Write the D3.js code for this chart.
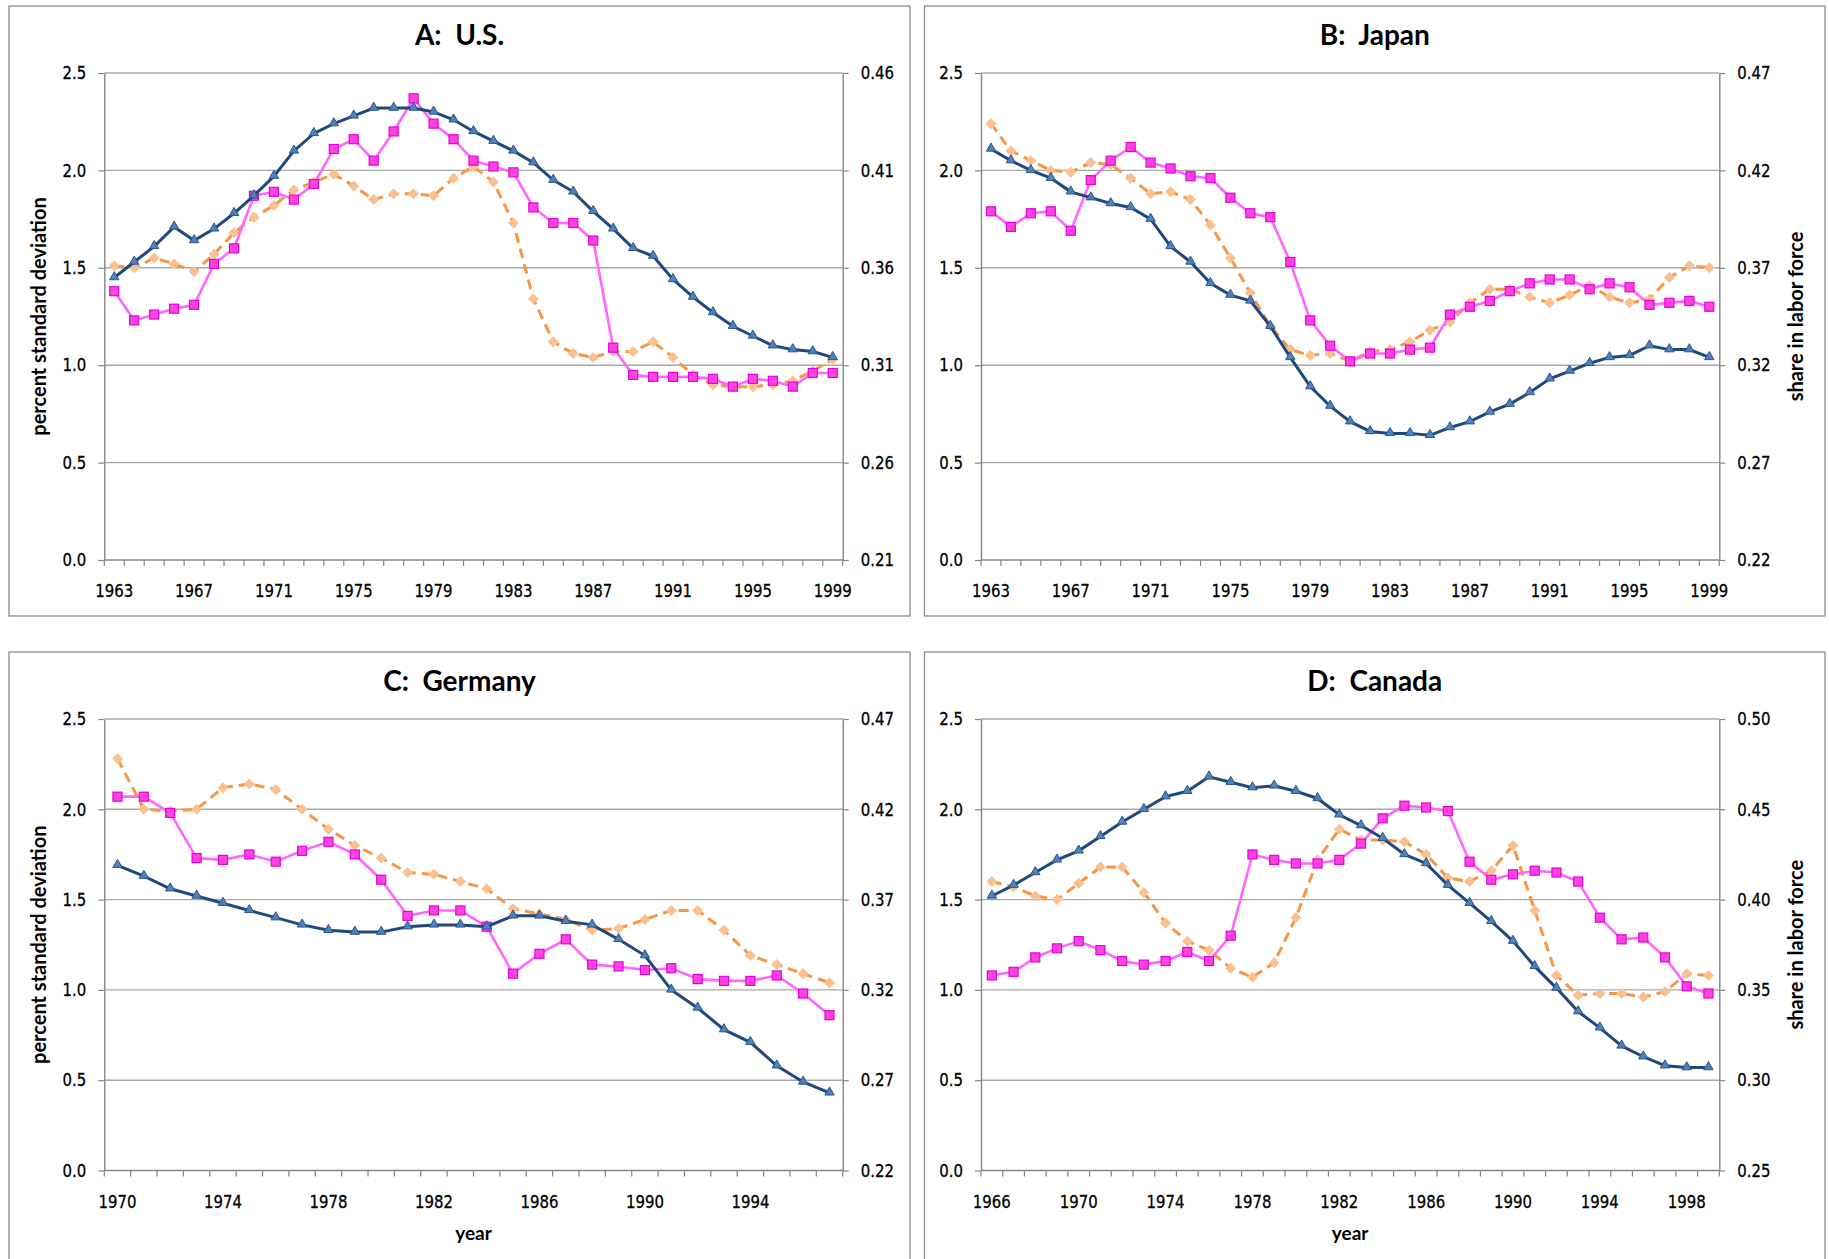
<!DOCTYPE html>
<html><head><meta charset="utf-8">
<script src="https://cdn.jsdelivr.net/npm/d3@7"></script>
<style>body{margin:0;background:#fff}svg{display:block}</style>
</head><body>
<svg id="c" width="1829" height="1259"></svg>
<script>
// ---------- data ----------
const yearsUS = [1963,1964,1965,1966,1967,1968,1969,1970,1971,1972,1973,1974,1975,1976,1977,1978,1979,1980,1981,1982,1983,1984,1985,1986,1987,1988,1989,1990,1991,1992,1993,1994,1995,1996,1997,1998,1999];
const usShare   = [0.355,0.363,0.371,0.381,0.374,0.380,0.388,0.397,0.407,0.420,0.429,0.434,0.438,0.442,0.442,0.442,0.440,0.436,0.430,0.425,0.420,0.414,0.405,0.399,0.389,0.380,0.370,0.366,0.354,0.345,0.337,0.330,0.325,0.320,0.318,0.317,0.314];
const usSquare  = [1.38,1.23,1.26,1.29,1.31,1.52,1.60,1.87,1.89,1.85,1.93,2.11,2.16,2.05,2.20,2.37,2.24,2.16,2.05,2.02,1.99,1.81,1.73,1.73,1.64,1.09,0.95,0.94,0.94,0.94,0.93,0.89,0.93,0.92,0.89,0.96,0.96];
const usDiamond = [1.51,1.50,1.55,1.52,1.48,1.57,1.68,1.76,1.82,1.90,1.94,1.98,1.92,1.85,1.88,1.88,1.87,1.96,2.02,1.94,1.73,1.34,1.12,1.06,1.04,1.07,1.07,1.12,1.04,0.95,0.90,0.89,0.89,0.90,0.92,0.97,1.03];

const yearsJP = [1963,1964,1965,1966,1967,1968,1969,1970,1971,1972,1973,1974,1975,1976,1977,1978,1979,1980,1981,1982,1983,1984,1985,1986,1987,1988,1989,1990,1991,1992,1993,1994,1995,1996,1997,1998,1999];
const jpShare   = [0.431,0.425,0.420,0.416,0.409,0.406,0.403,0.401,0.395,0.381,0.373,0.362,0.356,0.353,0.340,0.324,0.309,0.299,0.291,0.286,0.285,0.285,0.284,0.288,0.291,0.296,0.300,0.306,0.313,0.317,0.321,0.324,0.325,0.330,0.328,0.328,0.324];
const jpSquare  = [1.79,1.71,1.78,1.79,1.69,1.95,2.05,2.12,2.04,2.01,1.97,1.96,1.86,1.78,1.76,1.53,1.23,1.10,1.02,1.06,1.06,1.08,1.09,1.26,1.30,1.33,1.38,1.42,1.44,1.44,1.39,1.42,1.40,1.31,1.32,1.33,1.30];
const jpDiamond = [2.24,2.10,2.05,2.00,1.99,2.04,2.03,1.96,1.88,1.89,1.85,1.72,1.55,1.37,1.20,1.08,1.05,1.06,1.02,1.07,1.08,1.12,1.18,1.22,1.32,1.39,1.39,1.35,1.32,1.36,1.41,1.35,1.32,1.34,1.45,1.51,1.50];

const yearsDE = [1970,1971,1972,1973,1974,1975,1976,1977,1978,1979,1980,1981,1982,1983,1984,1985,1986,1987,1988,1989,1990,1991,1992,1993,1994,1995,1996,1997];
const deShare   = [0.389,0.383,0.376,0.372,0.368,0.364,0.360,0.356,0.353,0.352,0.352,0.355,0.356,0.356,0.355,0.361,0.361,0.358,0.356,0.348,0.339,0.320,0.310,0.298,0.291,0.278,0.269,0.263];
const deSquare  = [2.07,2.07,1.98,1.73,1.72,1.75,1.71,1.77,1.82,1.75,1.61,1.41,1.44,1.44,1.35,1.09,1.20,1.28,1.14,1.13,1.11,1.12,1.06,1.05,1.05,1.08,0.98,0.86];
const deDiamond = [2.28,2.00,1.99,2.00,2.12,2.14,2.11,2.00,1.89,1.80,1.73,1.65,1.64,1.60,1.56,1.45,1.42,1.39,1.33,1.34,1.39,1.44,1.44,1.33,1.19,1.14,1.09,1.04];

const yearsCA = [1966,1967,1968,1969,1970,1971,1972,1973,1974,1975,1976,1977,1978,1979,1980,1981,1982,1983,1984,1985,1986,1987,1988,1989,1990,1991,1992,1993,1994,1995,1996,1997,1998,1999];
const caShare   = [0.402,0.408,0.415,0.422,0.427,0.435,0.443,0.450,0.457,0.460,0.468,0.465,0.462,0.463,0.460,0.456,0.447,0.441,0.434,0.425,0.420,0.408,0.398,0.388,0.377,0.363,0.351,0.338,0.329,0.319,0.313,0.308,0.307,0.307];
const caSquare  = [1.08,1.10,1.18,1.23,1.27,1.22,1.16,1.14,1.16,1.21,1.16,1.30,1.75,1.72,1.70,1.70,1.72,1.81,1.95,2.02,2.01,1.99,1.71,1.61,1.64,1.66,1.65,1.60,1.40,1.28,1.29,1.18,1.02,0.98];
const caDiamond = [1.60,1.57,1.52,1.50,1.59,1.68,1.68,1.54,1.37,1.27,1.22,1.12,1.07,1.15,1.40,1.72,1.89,1.83,1.83,1.82,1.75,1.62,1.60,1.66,1.80,1.44,1.08,0.97,0.98,0.98,0.96,0.99,1.09,1.08];

const leftTicks = [0.0,0.5,1.0,1.5,2.0,2.5];
const rightTicksUS = [0.21,0.26,0.31,0.36,0.41,0.46];
const rightTicksJP = [0.22,0.27,0.32,0.37,0.42,0.47];
const rightTicksDE = [0.22,0.27,0.32,0.37,0.42,0.47];
const rightTicksCA = [0.25,0.30,0.35,0.40,0.45,0.50];
const xLabelsUS = [1963,1967,1971,1975,1979,1983,1987,1991,1995,1999];
const xLabelsJP = [1963,1967,1971,1975,1979,1983,1987,1991,1995,1999];
const xLabelsDE = [1970,1974,1978,1982,1986,1990,1994];
const xLabelsCA = [1966,1970,1974,1978,1982,1986,1990,1994,1998];
const titles = ["A:  U.S.", "B:  Japan", "C:  Germany", "D:  Canada"];
const leftTitle = "percent standard deviation";
const rightTitle = "share in labor force";
const xTitle = "year";

// ---------- layout ----------
const panels = [
  {title: titles[0], years: yearsUS, share: usShare, sq: usSquare, di: usDiamond, rt: rightTicksUS, xl: xLabelsUS,
   box: [9, 6, 910, 616], plot: [104.3, 73, 842.7, 560], lt: true, rtT: false, yr: false},
  {title: titles[1], years: yearsJP, share: jpShare, sq: jpSquare, di: jpDiamond, rt: rightTicksJP, xl: xLabelsJP,
   box: [924.5, 6, 1825, 616], plot: [981, 73, 1719.3, 560], lt: false, rtT: true, yr: false},
  {title: titles[2], years: yearsDE, share: deShare, sq: deSquare, di: deDiamond, rt: rightTicksDE, xl: xLabelsDE,
   box: [9, 652, 910, 1266], plot: [104.3, 719, 842.7, 1170.5], lt: true, rtT: false, yr: true},
  {title: titles[3], years: yearsCA, share: caShare, sq: caSquare, di: caDiamond, rt: rightTicksCA, xl: xLabelsCA,
   box: [924.5, 652, 1825, 1266], plot: [981, 719, 1719.3, 1170.5], lt: false, rtT: true, yr: true}
];

const svg = d3.select("#c");
const TICKFONT = "'DejaVu Sans', Verdana, sans-serif";
const BOLDFONT = "Lato, 'Open Sans', sans-serif";
const SQX = 0.83;

panels.forEach(p => {
  const [bx0, by0, bx1, by1] = p.box;
  const [px0, py0, px1, py1] = p.plot;
  const g = svg.append("g");

  g.append("rect").attr("x", bx0).attr("y", by0).attr("width", bx1 - bx0).attr("height", by1 - by0)
    .attr("fill", "#fff").attr("stroke", "#8c8c8c").attr("stroke-width", 1.3);

  const x = d3.scaleBand().domain(p.years).range([px0, px1]).padding(0);
  const cx = d => x(d) + x.bandwidth() / 2;
  const yL = d3.scaleLinear().domain([0, 2.5]).range([py1, py0]);
  const yR = d3.scaleLinear().domain([p.rt[0], p.rt[p.rt.length - 1]]).range([py1, py0]);

  // gridlines
  g.append("g").selectAll("line").data(leftTicks.slice(1)).join("line")
    .attr("x1", px0).attr("x2", px1).attr("y1", d => yL(d)).attr("y2", d => yL(d))
    .attr("stroke", "#a8a8a8").attr("stroke-width", 1.4);

  const axL = g.append("g").attr("transform", `translate(${px0},0)`)
    .call(d3.axisLeft(yL).tickValues(leftTicks).tickFormat(d3.format(".1f")).tickSize(6).tickSizeOuter(0).tickPadding(12));
  const axR = g.append("g").attr("transform", `translate(${px1},0)`)
    .call(d3.axisRight(yR).tickValues(p.rt).tickFormat(d3.format(".2f")).tickSize(6).tickSizeOuter(0).tickPadding(12));
  const axB = g.append("g").attr("transform", `translate(0,${py1})`)
    .call(d3.axisBottom(x).tickValues(p.xl).tickSize(0).tickPadding(24));
  axB.select(".domain").remove();
  g.append("line").attr("x1", px0).attr("x2", px1).attr("y1", py1).attr("y2", py1)
    .attr("stroke", "#868686").attr("stroke-width", 1.4);
  g.append("g").selectAll("line").data(p.years.map(d => x(d)).concat([px1])).join("line")
    .attr("x1", d => d).attr("x2", d => d).attr("y1", py1).attr("y2", py1 + 6)
    .attr("stroke", "#868686").attr("stroke-width", 1.2);

  [axL, axR, axB].forEach(a => {
    a.selectAll(".domain").attr("stroke", "#868686").attr("stroke-width", 1.4);
    a.selectAll(".tick line").attr("stroke", "#868686").attr("stroke-width", 1.2);
    a.selectAll(".tick text").attr("font-family", TICKFONT).attr("font-size", 18).attr("fill", "#000")
      .attr("stroke", "#000").attr("stroke-width", 0.3)
      .each(function() {
        const t = d3.select(this);
        const tx = +t.attr("x") || 0;
        t.attr("x", 0).attr("transform", `translate(${tx},0) scale(${SQX},1)`);
      });
  });
  axB.selectAll(".tick text").attr("dy", "0.73em");

  g.append("text").attr("x", (bx0 + bx1) / 2).attr("y", by0 + 39).attr("text-anchor", "middle")
    .attr("font-family", BOLDFONT).attr("font-weight", 700).attr("font-size", 28).attr("fill", "#000")
    .style("white-space", "pre").text(p.title);

  if (p.lt) {
    g.append("text").attr("transform", `translate(${46},${(py0 + py1) / 2}) rotate(-90)`)
      .attr("text-anchor", "middle").attr("font-family", BOLDFONT).attr("font-weight", 700)
      .attr("font-size", 20).attr("fill", "#000").text(leftTitle);
  }
  if (p.rtT) {
    g.append("text").attr("transform", `translate(${1803},${(py0 + py1) / 2}) rotate(-90)`)
      .attr("text-anchor", "middle").attr("font-family", BOLDFONT).attr("font-weight", 700)
      .attr("font-size", 20).attr("fill", "#000").text(rightTitle);
  }
  if (p.yr) {
    g.append("text").attr("x", (px0 + px1) / 2).attr("y", 1240).attr("text-anchor", "middle")
      .attr("font-family", BOLDFONT).attr("font-weight", 700).attr("font-size", 19).attr("fill", "#000").text(xTitle);
  }

  const lineL = d3.line().x((d, i) => cx(p.years[i])).y(d => yL(d));
  const lineR = d3.line().x((d, i) => cx(p.years[i])).y(d => yR(d));

  // orange dashed with diamonds
  g.append("path").datum(p.di).attr("d", lineL).attr("fill", "none")
    .attr("stroke", "#F79646").attr("stroke-width", 3).attr("stroke-dasharray", "10,6");
  g.append("g").selectAll("path").data(p.di).join("path")
    .attr("d", (d, i) => { const X = cx(p.years[i]), Y = yL(d); return `M${X},${Y-5.5}L${X+5.5},${Y}L${X},${Y+5.5}L${X-5.5},${Y}Z`; })
    .attr("fill", "#FAC090");

  // magenta with squares
  g.append("path").datum(p.sq).attr("d", lineL).attr("fill", "none")
    .attr("stroke", "#FF66FF").attr("stroke-width", 2.6);
  g.append("g").selectAll("rect").data(p.sq).join("rect")
    .attr("x", (d, i) => cx(p.years[i]) - 4.5).attr("y", d => yL(d) - 4.5)
    .attr("width", 9).attr("height", 9).attr("fill", "#FF44DD").attr("stroke", "#E000E0").attr("stroke-width", 1.2);

  // navy with triangles (right axis)
  g.append("path").datum(p.share).attr("d", lineR).attr("fill", "none")
    .attr("stroke", "#1F497D").attr("stroke-width", 3);
  g.append("g").selectAll("path").data(p.share).join("path")
    .attr("d", d3.symbol().type(d3.symbolTriangle).size(38))
    .attr("transform", (d, i) => `translate(${cx(p.years[i])},${yR(d) - 0.5})`)
    .attr("fill", "#4F81BD").attr("stroke", "#2C5587").attr("stroke-width", 1);
});
</script>
</body></html>
